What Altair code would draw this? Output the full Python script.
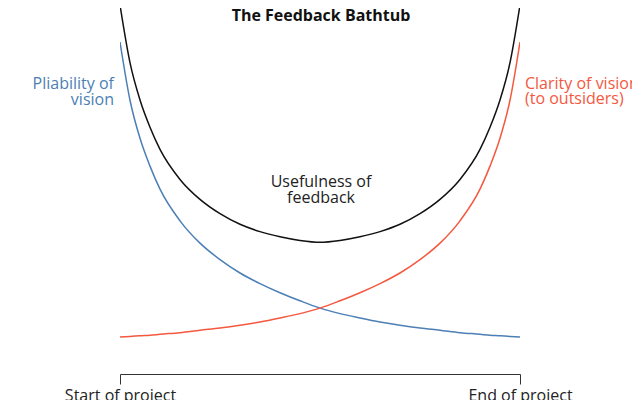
import altair as alt
import pandas as pd

# progress through the project (0 = start, 100 = end)
progress = [0, 2.5, 5, 7.5, 10, 15, 20, 25, 30, 35, 40, 45, 50, 55, 60, 65,
            70, 75, 80, 85, 90, 92.5, 95, 97.5, 100]

pliability = [90.7, 74.8, 64.4, 56.8, 50.5, 41.85, 35.75, 31.25, 27.6, 24.7, 22.2,
              20.0, 18.0, 16.5, 15.3, 14.2, 13.3, 12.55, 11.95, 11.3, 10.85, 10.6,
              10.45, 10.25, 10.1]

clarity = [10.1, 10.25, 10.45, 10.6, 10.85, 11.3, 11.95, 12.55, 13.3, 14.2, 15.3,
           16.5, 18.0, 20.0, 22.2, 24.7, 27.6, 31.25, 35.75, 41.85, 50.5, 56.8,
           64.4, 74.8, 90.7]

usefulness = [100.8, 85.05, 74.85, 67.4, 61.35, 53.15, 47.7, 43.8, 40.9, 38.9, 37.5,
              36.5, 36.0, 36.5, 37.5, 38.9, 40.9, 43.8, 47.7, 53.15, 61.35, 67.4,
              74.85, 85.05, 100.8]

series_names = ["Pliability of vision", "Clarity of vision", "Usefulness of feedback"]
series_colors = ["#4c7fb5", "#f4583f", "#111111"]

rows = []
for name, vals in zip(series_names, [pliability, clarity, usefulness]):
    for t, v in zip(progress, vals):
        rows.append({"progress": t, "value": v, "series": name})
df = pd.DataFrame(rows)

FONT = "Open Sans"

x_scale = alt.Scale(domain=[0, 100], nice=False, zero=False)
y_scale = alt.Scale(domain=[0, 100], nice=False)

lines = alt.Chart(df).mark_line(clip=True, strokeWidth=1.5, interpolate="monotone").encode(
    x=alt.X("progress:Q", scale=x_scale,
            axis=alt.Axis(values=[0, 100], title=None, grid=False,
                          labelExpr="datum.value == 0 ? 'Start of project' : 'End of project'",
                          labelFlush=False, labelFontSize=16, labelColor="#222222",
                          labelFont=FONT, labelPadding=3, tickSize=10,
                          tickColor="#333333", domainColor="#333333",
                          labelOverlap=False)),
    y=alt.Y("value:Q", scale=y_scale, axis=None),
    color=alt.Color("series:N", scale=alt.Scale(domain=series_names, range=series_colors),
                    legend=None),
    detail="series:N",
)

title = alt.Chart().mark_text(align="center", baseline="alphabetic", fontSize=16,
                              fontWeight="bold", font=FONT, color="#111111").encode(
    x=alt.value(201), y=alt.value(13), text=alt.value("The Feedback Bathtub"))

left_label = alt.Chart().mark_text(align="right", baseline="alphabetic", fontSize=16,
                                   font=FONT, color="#4c7fb5", lineHeight=16).encode(
    x=alt.value(-6), y=alt.value(80.5), text=alt.value(["Pliability of", "vision"]))

right_label = alt.Chart().mark_text(align="left", baseline="alphabetic", fontSize=16,
                                    font=FONT, color="#f4583f", lineHeight=15).encode(
    x=alt.value(405), y=alt.value(81), text=alt.value(["Clarity of vision", "(to outsiders)"]))

mid_label = alt.Chart().mark_text(align="center", baseline="alphabetic", fontSize=16,
                                  font=FONT, color="#222222", lineHeight=16).encode(
    x=alt.value(201), y=alt.value(178.7), text=alt.value(["Usefulness of", "feedback"]))

chart = alt.layer(lines, title, left_label, right_label, mid_label).properties(
    width=400,
    height=366,
    autosize=alt.AutoSizeParams(type="none"),
    padding={"left": 112, "top": 0, "right": 112, "bottom": 26},
).configure_view(stroke=None)

chart.save("out.html", embed_options={"renderer": "svg", "actions": False})
